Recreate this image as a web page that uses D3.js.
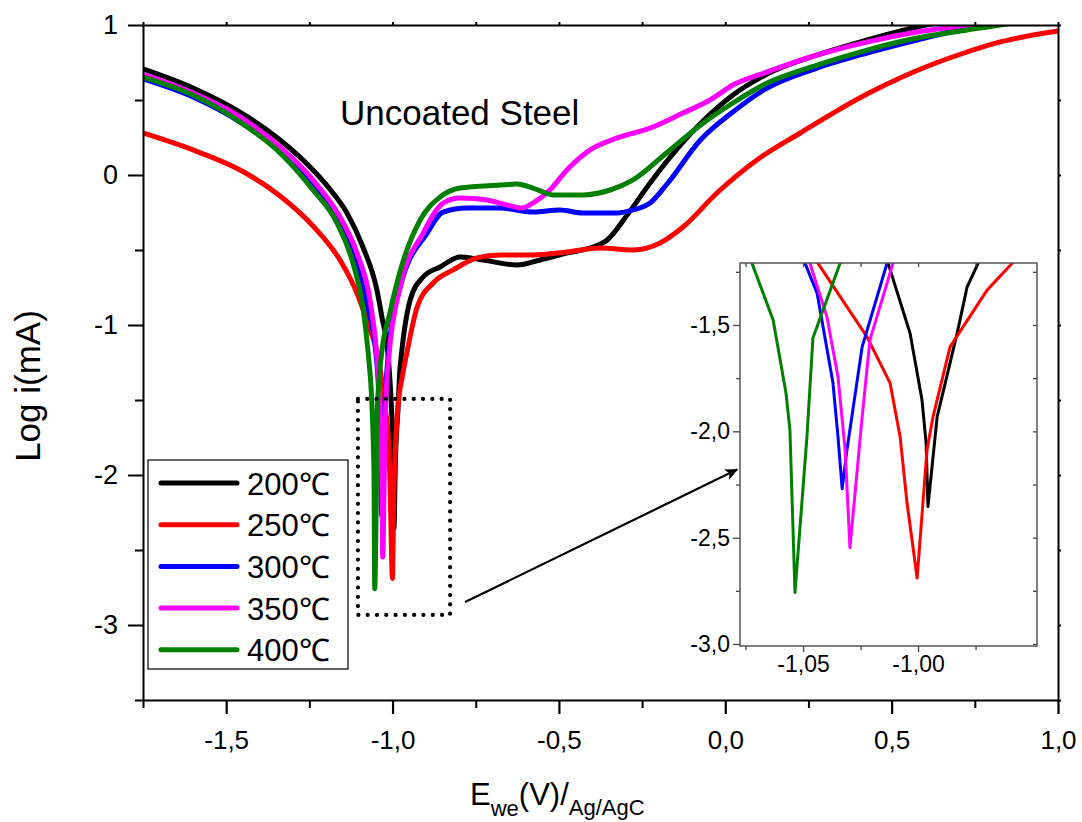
<!DOCTYPE html>
<html>
<head>
<meta charset="utf-8">
<script src="https://cdn.jsdelivr.net/npm/d3@7"></script>
<style>
  body { margin: 0; background: #fff; }
  svg { display: block; }
  text { font-family: Arial, "Liberation Sans", sans-serif; }
</style>
</head>
<body>
<svg id="chart" width="1082" height="822"></svg>
<script>
// ---------------- data ----------------
const seriesNames = ["200℃", "250℃", "300℃", "350℃", "400℃"];
const seriesColors = ["#000000", "#ff0000", "#0000ff", "#ff00ff", "#008000"];

// [E (V), log i (mA)]
const curve200 = [
  [-1.75, 0.707], [-1.6, 0.58], [-1.48, 0.447], [-1.338, 0.233], [-1.239, 0.033],
  [-1.179, -0.12], [-1.137, -0.253], [-1.089, -0.48], [-1.047, -0.767], [-1.032, -0.947],
  [-1.013, -1.21], [-1.0035, -1.538], [-0.9983, -1.852], [-0.9965, -2.054], [-0.9957, -2.354],
  [-0.9917, -1.932], [-0.983, -1.538], [-0.9787, -1.322], [-0.9739, -1.21], [-0.947, -0.833],
  [-0.908, -0.68], [-0.857, -0.613], [-0.797, -0.547], [-0.728, -0.567], [-0.626, -0.6],
  [-0.557, -0.567], [-0.476, -0.52], [-0.397, -0.48], [-0.355, -0.433], [-0.295, -0.267],
  [-0.226, -0.053], [-0.175, 0.093], [-0.127, 0.22], [-0.076, 0.34], [0.023, 0.533],
  [0.126, 0.673], [0.276, 0.8], [0.426, 0.9], [0.576, 0.987], [0.65, 1.02]
];
const curve250 = [
  [-1.75, 0.28], [-1.6, 0.167], [-1.458, 0.033], [-1.338, -0.14], [-1.239, -0.34],
  [-1.158, -0.567], [-1.107, -0.787], [-1.071, -1.013], [-1.0435, -1.21], [-1.0222, -1.556],
  [-1.0122, -1.772], [-1.0078, -2.026], [-1.0048, -2.336], [-1.0004, -2.69], [-0.9961, -2.087],
  [-0.9935, -1.932], [-0.9861, -1.603], [-0.970, -1.336], [-0.9591, -1.21], [-0.926, -0.88],
  [-0.878, -0.72], [-0.818, -0.633], [-0.746, -0.553], [-0.677, -0.533], [-0.578, -0.533],
  [-0.476, -0.513], [-0.376, -0.487], [-0.277, -0.5], [-0.196, -0.453], [-0.127, -0.347],
  [-0.025, -0.12], [0.095, 0.1], [0.225, 0.28], [0.324, 0.413], [0.426, 0.54],
  [0.525, 0.647], [0.625, 0.74], [0.727, 0.82], [0.826, 0.887], [0.925, 0.933], [1.0, 0.96]
];
const curve300 = [
  [-1.75, 0.64], [-1.6, 0.52], [-1.458, 0.353], [-1.338, 0.16], [-1.239, -0.08],
  [-1.167, -0.307], [-1.113, -0.567], [-1.08, -0.833], [-1.0491, -1.21], [-1.0439, -1.35],
  [-1.037, -1.772], [-1.0348, -2.026], [-1.033, -2.27], [-1.0309, -2.087], [-1.0243, -1.603],
  [-1.0135, -1.21], [-0.977, -0.747], [-0.896, -0.387], [-0.848, -0.247], [-0.776, -0.22],
  [-0.677, -0.22], [-0.578, -0.247], [-0.497, -0.233], [-0.428, -0.253], [-0.325, -0.253],
  [-0.277, -0.233], [-0.226, -0.187], [-0.175, -0.06], [-0.076, 0.23], [0.023, 0.42],
  [0.126, 0.58], [0.276, 0.713], [0.426, 0.813], [0.576, 0.9], [0.727, 0.98], [0.85, 1.03]
];
const curve350 = [
  [-1.75, 0.673], [-1.6, 0.547], [-1.458, 0.387], [-1.338, 0.187], [-1.239, -0.033],
  [-1.158, -0.28], [-1.107, -0.52], [-1.068, -0.833], [-1.047, -1.21], [-1.0396, -1.462],
  [-1.0348, -1.744], [-1.0317, -2.087], [-1.0296, -2.547], [-1.0243, -1.932], [-1.0209, -1.57],
  [-1.0109, -1.21], [-0.977, -0.747], [-0.908, -0.387], [-0.848, -0.187], [-0.797, -0.153],
  [-0.716, -0.167], [-0.656, -0.2], [-0.611, -0.22], [-0.578, -0.187], [-0.527, -0.1],
  [-0.476, 0.033], [-0.406, 0.167], [-0.325, 0.247], [-0.226, 0.313], [-0.127, 0.413],
  [-0.046, 0.5], [0.023, 0.6], [0.126, 0.687], [0.276, 0.8], [0.426, 0.887],
  [0.576, 0.953], [0.727, 1.0], [0.8, 1.03]
];
const curve400 = [
  [-1.75, 0.653], [-1.6, 0.533], [-1.458, 0.353], [-1.338, 0.147], [-1.239, -0.1],
  [-1.167, -0.32], [-1.119, -0.587], [-1.089, -0.88], [-1.0722, -1.209], [-1.063, -1.477],
  [-1.0574, -1.82], [-1.0557, -1.993], [-1.0535, -2.758], [-1.0483, -2.026], [-1.0457, -1.561],
  [-1.0339, -1.21], [-1.008, -0.92], [-0.977, -0.64], [-0.917, -0.3], [-0.857, -0.147],
  [-0.797, -0.087], [-0.677, -0.067], [-0.626, -0.06], [-0.578, -0.087], [-0.518, -0.133],
  [-0.428, -0.133], [-0.346, -0.1], [-0.277, -0.033], [-0.175, 0.15], [-0.076, 0.33],
  [0.023, 0.48], [0.126, 0.613], [0.276, 0.733], [0.426, 0.833], [0.576, 0.913],
  [0.727, 0.967], [0.826, 1.0], [0.9, 1.03]
];
const seriesData = [curve200, curve250, curve300, curve350, curve400];

const xTicks = [-1.5, -1.0, -0.5, 0.0, 0.5, 1.0];
const xMinorTicks = [-1.75, -1.25, -0.75, -0.25, 0.25, 0.75];
const yTicks = [1, 0, -1, -2, -3];
const yMinorTicks = [0.5, -0.5, -1.5, -2.5, -3.5];
const insetXTicks = [-1.05, -1.00];
const insetXMinorTicks = [-1.075, -1.025, -0.975];
const insetYTicks = [-3.0, -2.5, -2.0, -1.5];
const insetYMinorTicks = [-2.75, -2.25, -1.75, -1.25];
const zoomBox = { x0: -1.104, x1: -0.827, y0: -2.933, y1: -1.493 };
const arrowFrom = [-0.782, -2.847];     // main-plot coordinates
const arrowTo = [-1.0787, -2.18];       // inset coordinates

const titleText = "Uncoated Steel";
const yLabel = "Log i(mA)";

// ---------------- layout ----------------
const fmtComma = (d, p) => d.toFixed(p).replace(".", ",");
const svg = d3.select("#chart");
const M = { left: 143, right: 1058, top: 25, bottom: 700 };
const x = d3.scaleLinear().domain([-1.75, 1.0]).range([M.left, M.right]);
const y = d3.scaleLinear().domain([-3.5, 1]).range([M.bottom, M.top]);

const defs = svg.append("defs");
defs.append("clipPath").attr("id", "mainClip").append("rect")
  .attr("x", M.left).attr("y", M.top).attr("width", M.right - M.left).attr("height", M.bottom - M.top);

defs.append("marker").attr("id", "arrowHead")
  .attr("viewBox", "0 -5 10 10").attr("refX", 9).attr("refY", 0)
  .attr("markerUnits", "userSpaceOnUse").attr("markerWidth", 15).attr("markerHeight", 13)
  .attr("orient", "auto")
  .append("path").attr("d", "M0,-4.5L10,0L0,4.5L2.5,0Z").attr("fill", "#000");

// main curves
const line = d3.line().x(d => x(d[0])).y(d => y(d[1])).curve(d3.curveMonotoneX);
const gLines = svg.append("g").attr("clip-path", "url(#mainClip)");
seriesData.forEach((data, i) => {
  gLines.append("path").datum(data).attr("d", line)
    .attr("fill", "none").attr("stroke", seriesColors[i]).attr("stroke-width", 5)
    .attr("stroke-linejoin", "round").attr("stroke-linecap", "round");
});

function styleAxis(g, fontSize, w) {
  g.attr("font-family", "Arial, 'Liberation Sans', sans-serif").attr("font-size", fontSize);
  g.selectAll("text").attr("font-size", fontSize).attr("fill", "#000");
  g.selectAll(".tick line").attr("stroke", "#000").attr("stroke-width", w);
  g.select(".domain").attr("stroke", "#000").attr("stroke-width", w);
}

// bottom axis
svg.append("g").attr("transform", `translate(0,${M.bottom})`)
  .call(d3.axisBottom(x).tickValues(xTicks).tickSize(14).tickPadding(17).tickSizeOuter(0)
    .tickFormat(d => fmtComma(d, 1)))
  .call(g => styleAxis(g, 26, 2.2));
svg.append("g").attr("transform", `translate(0,${M.bottom})`)
  .call(d3.axisBottom(x).tickValues(xMinorTicks).tickSize(8).tickFormat(""))
  .call(g => { g.select(".domain").remove(); styleAxis(g, 26, 2); });

// left axis
svg.append("g").attr("transform", `translate(${M.left},0)`)
  .call(d3.axisLeft(y).tickValues(yTicks).tickSize(15).tickPadding(10).tickSizeOuter(0)
    .tickFormat(d => String(d)))
  .call(g => styleAxis(g, 27, 2));
svg.append("g").attr("transform", `translate(${M.left},0)`)
  .call(d3.axisLeft(y).tickValues(yMinorTicks).tickSize(8).tickFormat(""))
  .call(g => { g.select(".domain").remove(); styleAxis(g, 27, 2); });

// top & right axes
svg.append("g").attr("transform", `translate(0,${M.top})`)
  .call(d3.axisTop(x).tickValues(xTicks.concat(xMinorTicks)).tickSize(3).tickSizeOuter(0).tickFormat(""))
  .call(g => styleAxis(g, 25, 2));
svg.append("g").attr("transform", `translate(${M.right},0)`)
  .call(d3.axisRight(y).tickValues(yTicks.concat(yMinorTicks)).tickSize(3).tickSizeOuter(0).tickFormat(""))
  .call(g => styleAxis(g, 25, 2));

// axis titles
svg.append("text")
  .attr("transform", "translate(40,386) rotate(-90)")
  .attr("text-anchor", "middle").attr("font-size", 35).attr("fill", "#000")
  .text(yLabel);

const xl = svg.append("text").attr("x", 470).attr("y", 805).attr("fill", "#000");
xl.append("tspan").attr("font-size", 31).text("E");
xl.append("tspan").attr("font-size", 22).attr("dy", 11).text("we");
xl.append("tspan").attr("font-size", 31).attr("dy", -11).text("(V)/");
xl.append("tspan").attr("font-size", 22).attr("dy", 10).text("Ag/AgC");

// title
svg.append("text").attr("x", 340).attr("y", 125).attr("font-size", 35).attr("fill", "#000")
  .text(titleText);

// dotted zoom box
svg.append("rect")
  .attr("x", x(zoomBox.x0)).attr("y", y(zoomBox.y1))
  .attr("width", x(zoomBox.x1) - x(zoomBox.x0)).attr("height", y(zoomBox.y0) - y(zoomBox.y1))
  .attr("fill", "none").attr("stroke", "#000").attr("stroke-width", 4.2)
  .attr("stroke-dasharray", "0 9.3").attr("stroke-linecap", "round");

// legend
const L = { x: 148, y: 460, w: 200, h: 209, row0: 483, step: 41.7 };
svg.append("rect").attr("x", L.x).attr("y", L.y).attr("width", L.w).attr("height", L.h)
  .attr("fill", "#fff").attr("stroke", "#000").attr("stroke-width", 1.2);
seriesNames.forEach((name, i) => {
  const cy = L.row0 + i * L.step;
  svg.append("line").attr("x1", 161).attr("x2", 237).attr("y1", cy).attr("y2", cy)
    .attr("stroke", seriesColors[i]).attr("stroke-width", 5).attr("stroke-linecap", "round");
  svg.append("text").attr("x", 247).attr("y", cy + 11.5).attr("font-size", 31).attr("fill", "#000")
    .text(name);
});

// ---------------- inset ----------------
const I = { left: 740, right: 1037, top: 263, bottom: 646 };
const ix = d3.scaleLinear().domain([-1.0774, -0.9483]).range([I.left, I.right]);
const iy = d3.scaleLinear().domain([-3.0094, -1.2085]).range([I.bottom, I.top]);

svg.append("rect").attr("x", I.left).attr("y", I.top).attr("width", I.right - I.left)
  .attr("height", I.bottom - I.top).attr("fill", "#fff");
defs.append("clipPath").attr("id", "insetClip").append("rect")
  .attr("x", I.left).attr("y", I.top).attr("width", I.right - I.left).attr("height", I.bottom - I.top);

const iline = d3.line().x(d => ix(d[0])).y(d => iy(d[1])).curve(d3.curveLinear);
const gIn = svg.append("g").attr("clip-path", "url(#insetClip)");
seriesData.forEach((data, i) => {
  gIn.append("path").datum(data).attr("d", iline)
    .attr("fill", "none").attr("stroke", seriesColors[i]).attr("stroke-width", 3)
    .attr("stroke-linejoin", "round");
});

const insetFont = 23;
function styleInset(g) {
  g.attr("font-family", "Arial, 'Liberation Sans', sans-serif").attr("font-size", insetFont);
  g.selectAll("text").attr("font-size", insetFont).style("font-size", insetFont + "px").attr("fill", "#000");
  g.selectAll(".tick line").attr("stroke", "#444").attr("stroke-width", 1.3);
  g.select(".domain").remove();
}
svg.append("g").attr("transform", `translate(${I.left},0)`)
  .call(d3.axisLeft(iy).tickValues(insetYTicks).tickSize(7).tickPadding(3).tickFormat(d => fmtComma(d, 1)))
  .call(styleInset);
svg.append("g").attr("transform", `translate(${I.left},0)`)
  .call(d3.axisLeft(iy).tickValues(insetYMinorTicks).tickSize(4).tickFormat(""))
  .call(styleInset);
svg.append("g").attr("transform", `translate(0,${I.bottom})`)
  .call(d3.axisBottom(ix).tickValues(insetXTicks).tickSize(6).tickPadding(4).tickFormat(d => fmtComma(d, 2)))
  .call(styleInset);
svg.append("g").attr("transform", `translate(0,${I.bottom})`)
  .call(d3.axisBottom(ix).tickValues(insetXMinorTicks).tickSize(4).tickFormat(""))
  .call(styleInset);
svg.append("g").attr("transform", `translate(0,${I.top})`)
  .call(d3.axisTop(ix).tickValues(insetXTicks.concat(insetXMinorTicks)).tickSize(-4).tickFormat(""))
  .call(styleInset);
svg.append("g").attr("transform", `translate(${I.right},0)`)
  .call(d3.axisRight(iy).tickValues(insetYTicks.concat(insetYMinorTicks)).tickSize(-4).tickFormat(""))
  .call(styleInset);

svg.append("rect").attr("x", I.left).attr("y", I.top).attr("width", I.right - I.left)
  .attr("height", I.bottom - I.top).attr("fill", "none").attr("stroke", "#555").attr("stroke-width", 1.5);

// arrow from zoom box to inset
svg.append("line")
  .attr("x1", x(arrowFrom[0])).attr("y1", y(arrowFrom[1]))
  .attr("x2", ix(arrowTo[0])).attr("y2", iy(arrowTo[1]))
  .attr("stroke", "#000").attr("stroke-width", 2.2).attr("marker-end", "url(#arrowHead)");
</script>
</body>
</html>
